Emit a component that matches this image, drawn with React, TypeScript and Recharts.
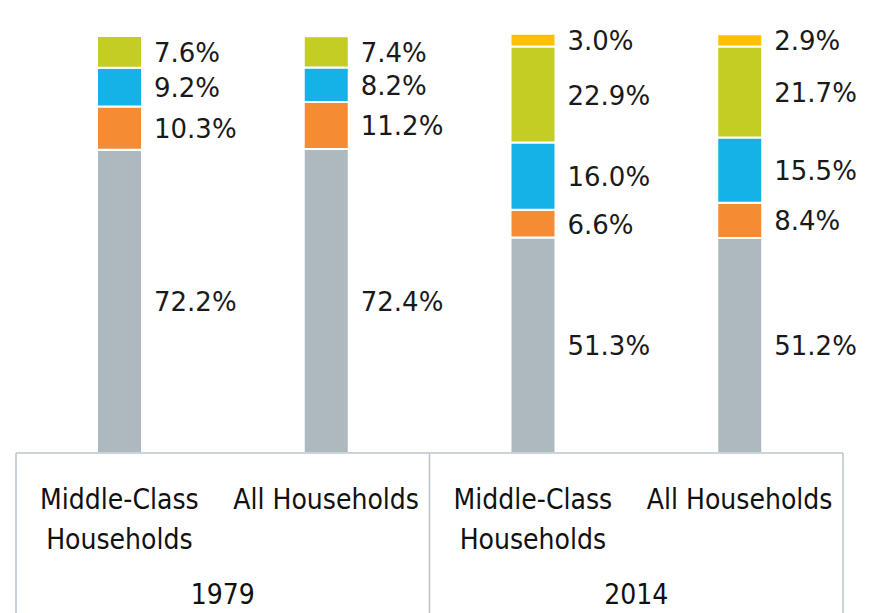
import { BarChart, Bar, XAxis, YAxis, LabelList } from "recharts";

const categories = ["Middle-Class Households", "All Households", "Middle-Class Households", "All Households"];
const years = ["1979", "1979", "2014", "2014"];
const grey = [72.2, 72.4, 51.3, 51.2];
const orange = [10.3, 11.2, 6.6, 8.4];
const blue = [9.2, 8.2, 16.0, 15.5];
const green = [7.6, 7.4, 22.9, 21.7];
const yellow = [null, null, 3.0, 2.9];

const W = 871;
const H = 613;
const margin = { top: 33, right: 28, bottom: 0, left: 16 };
const AXIS_H = 160;
const band = (W - margin.left - margin.right) / categories.length;
const axisY = H - AXIS_H;
const lineColor = "#b9c5cc";
const labelFont = "'DejaVu Sans', sans-serif";
const axisFont = "'DejaVu Sans Condensed', 'DejaVu Sans', sans-serif";

const data = categories.map((name, i) => ({
  name,
  year: years[i],
  grey: grey[i],
  orange: orange[i],
  blue: blue[i],
  green: green[i],
  yellow: yellow[i],
}));

function SegmentLabel(props: any) {
  const { x, y, width, height, value } = props;
  if (value == null) return null;
  return (
    <text
      x={x + width + 12}
      y={y + height / 2 + 10}
      fontSize={26}
      fontFamily={labelFont}
      fill="#1a1a1a"
    >
      {value.toFixed(1)}%
    </text>
  );
}

function CategoryTick(props: any) {
  const { x, payload, index } = props;
  const words = String(payload.value).split(" ");
  const lines = words[0] === "All" ? [payload.value] : words;
  return (
    <g>
      {lines.map((t: string, k: number) => (
        <text
          key={k}
          x={x}
          y={axisY + 56 + k * 40}
          textAnchor="middle"
          fontSize={28}
          fontFamily={axisFont}
          fill="#111"
        >
          {t}
        </text>
      ))}
      {index % 2 === 0 && (
        <text
          x={x + band / 2}
          y={axisY + 151}
          textAnchor="middle"
          fontSize={28}
          fontFamily={axisFont}
          fill="#111"
        >
          {years[index]}
        </text>
      )}
      {index === 0 && (
        <line x1={x - band / 2} x2={x - band / 2} y1={axisY} y2={H} stroke={lineColor} strokeWidth={1.5} />
      )}
      {index % 2 === 1 && (
        <line x1={x + band / 2} x2={x + band / 2} y1={axisY} y2={H} stroke={lineColor} strokeWidth={1.5} />
      )}
    </g>
  );
}

const series = [
  { key: "grey", color: "#adb9bf" },
  { key: "orange", color: "#f58b33" },
  { key: "blue", color: "#15b2e8" },
  { key: "green", color: "#c3cd23" },
  { key: "yellow", color: "#ffc000" },
];

export default function App() {
  return (
    <div style={{ position: "absolute", left: 0, top: 0, background: "#fff" }}>
      <BarChart width={W} height={H} data={data} margin={margin} barSize={45}>
        <XAxis
          dataKey="name"
          height={AXIS_H}
          interval={0}
          tickLine={false}
          tickSize={0}
          axisLine={{ stroke: lineColor, strokeWidth: 1.5 }}
          tick={<CategoryTick />}
        />
        <YAxis hide domain={[0, 100]} />
        {series.map((s) => (
          <Bar
            key={s.key}
            dataKey={s.key}
            stackId="a"
            fill={s.color}
            stroke="#fff"
            strokeWidth={2}
            isAnimationActive={false}
          >
            <LabelList dataKey={s.key} content={<SegmentLabel />} />
          </Bar>
        ))}
      </BarChart>
    </div>
  );
}
